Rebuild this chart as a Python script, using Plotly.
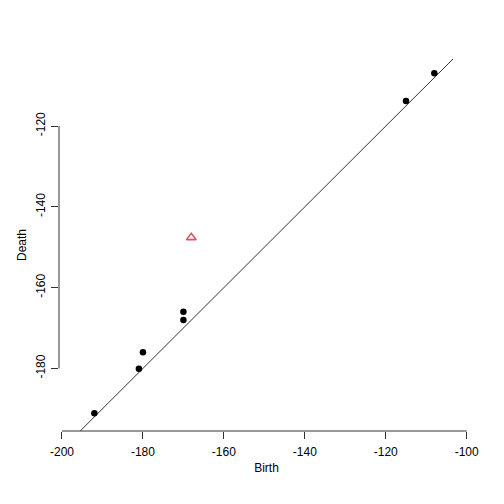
import plotly.graph_objects as go

birth = [-192, -181, -180, -170, -170, -115, -108]
death = [-191.1, -180.1, -176.0, -166.0, -168.0, -113.8, -106.9]
birth_h1 = [-168.05]
death_h1 = [-147.6]

x_ticks = [-200, -180, -160, -140, -120, -100]
y_ticks = [-180, -160, -140, -120]
x_range = [-200.74, -98.2]
y_range = [-195.5, -103.4]

font = dict(family="Liberation Sans, Arial, Helvetica, sans-serif", size=12, color="black")

fig = go.Figure()
diag = [min(x_range[0], y_range[0]) - 10, max(x_range[1], y_range[1]) + 10]
fig.add_trace(go.Scatter(x=diag, y=diag, mode="lines",
                         line=dict(color="#333333", width=1), hoverinfo="skip"))
fig.add_trace(go.Scatter(x=birth, y=death, mode="markers",
                         marker=dict(color="black", size=6.5, symbol="circle")))
fig.add_trace(go.Scatter(x=birth_h1, y=death_h1, mode="markers",
                         marker=dict(color="#DF536B", size=8.5, symbol="triangle-up-open",
                                     line=dict(width=1.6, color="#DF536B"))))

# page body has an 8px default margin, so the figure is drawn 8px smaller
fig.update_layout(
    width=496, height=496,
    margin=dict(l=51, r=30, t=51, b=73, autoexpand=False),
    paper_bgcolor="white", plot_bgcolor="white",
    showlegend=False, font=font,
    xaxis=dict(range=x_range, tickvals=x_ticks, ticktext=[str(v) for v in x_ticks],
               ticks="outside", ticklen=7, tickcolor="#333333", tickwidth=1,
               showgrid=False, zeroline=False, showline=False, automargin=False,
               ticklabelstandoff=3,
               title=dict(text="Birth", standoff=5, font=font)),
    yaxis=dict(range=y_range, tickvals=y_ticks, ticktext=[str(v) for v in y_ticks],
               ticks="outside", ticklen=7, tickcolor="#333333", tickwidth=1,
               tickangle=-90,
               showgrid=False, zeroline=False, showline=False, automargin=False,
               ticklabelstandoff=1,
               title=dict(text="Death", standoff=5, font=font)),
)

fig.add_shape(type="line", xref="x", yref="paper", x0=x_ticks[0], x1=x_ticks[-1], y0=0, y1=0,
              line=dict(color="#333333", width=1))
fig.add_shape(type="line", xref="paper", yref="y", x0=0, x1=0, y0=y_ticks[0], y1=y_ticks[-1],
              line=dict(color="#333333", width=1))

fig.write_html("out.html")
